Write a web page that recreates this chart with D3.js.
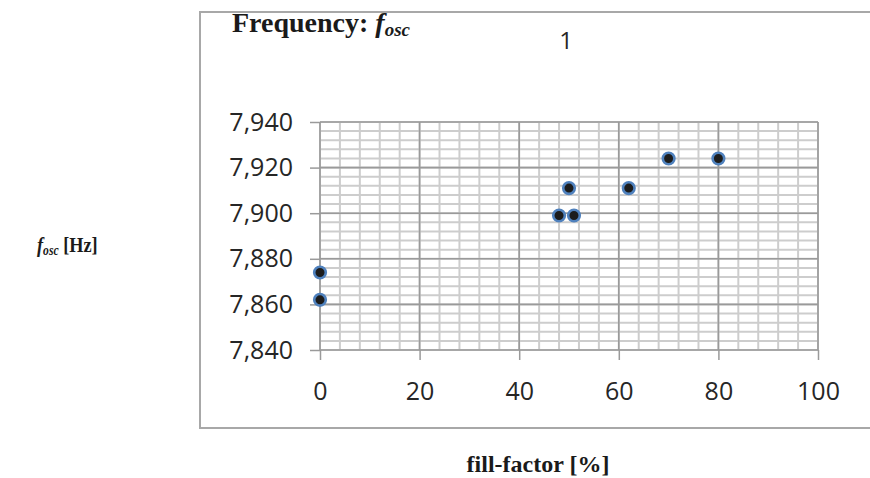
<!DOCTYPE html>
<html>
<head>
<meta charset="utf-8">
<script src="https://cdn.jsdelivr.net/npm/d3@7"></script>
<style>
  body { margin: 0; background: #fff; }
  .eje text { font-family: 'Open Sans', sans-serif; font-size: 25px; fill: #262626; }
  .eje path { display: none; }
  .eje line { stroke: #9a9a9a; stroke-width: 1.5px; }
  .serif { font-family: 'Liberation Serif', 'Times New Roman', serif; font-weight: bold; fill: #1a1a1a; }
</style>
</head>
<body>
<div id="graf"></div>
<script>
// datos
fillFactor = [0, 0, 48, 50, 51, 62, 70, 80]
freq = [7874, 7862, 7899, 7911, 7899, 7911, 7924, 7924]
xTicks = [0, 20, 40, 60, 80, 100]
yTicks = [7840, 7860, 7880, 7900, 7920, 7940]

ancho_total = 870
alto_total = 478

svg = d3.select('#graf').append('svg')
  .attr('width', ancho_total)
  .attr('height', alto_total)
  .style('display', 'block')

// marco del area del grafico
svg.append('rect')
  .attr('x', 200)
  .attr('y', 12)
  .attr('width', 700)
  .attr('height', 416)
  .attr('fill', '#fff')
  .attr('stroke', '#a8a8a8')
  .attr('stroke-width', 2)

x = d3.scaleLinear().domain([0, 100]).range([320, 818])
y = d3.scaleLinear().domain([7840, 7940]).range([350, 122])

g = svg.append('g')

// rejilla menor
g.selectAll('.vmin')
  .data(d3.range(0, 101, 4))
  .enter().append('line')
  .attr('x1', d => x(d)).attr('x2', d => x(d))
  .attr('y1', y(7940)).attr('y2', y(7840))
  .attr('stroke', '#cdcdcd').attr('stroke-width', 2)
g.selectAll('.hmin')
  .data(d3.range(7840, 7941, 4))
  .enter().append('line')
  .attr('x1', x(0)).attr('x2', x(100))
  .attr('y1', d => y(d)).attr('y2', d => y(d))
  .attr('stroke', '#cdcdcd').attr('stroke-width', 2)

// rejilla mayor
g.selectAll('.vmaj')
  .data(xTicks)
  .enter().append('line')
  .attr('x1', d => x(d)).attr('x2', d => x(d))
  .attr('y1', y(7940)).attr('y2', y(7840))
  .attr('stroke', '#9a9a9a').attr('stroke-width', 1.6)
g.selectAll('.hmaj')
  .data(yTicks)
  .enter().append('line')
  .attr('x1', x(0)).attr('x2', x(100))
  .attr('y1', d => y(d)).attr('y2', d => y(d))
  .attr('stroke', '#9a9a9a').attr('stroke-width', 1.6)

// ejes
yAxisCall = d3.axisLeft(y)
  .tickValues(yTicks)
  .tickSize(10)
  .tickPadding(17)
  .tickFormat(d3.format(','))
svg.append('g')
  .attr('class', 'eje')
  .attr('transform', `translate(${x(0)}, 0)`)
  .call(yAxisCall)

xAxisCall = d3.axisBottom(x)
  .tickValues(xTicks)
  .tickSize(10)
  .tickPadding(22)
svg.append('g')
  .attr('class', 'eje')
  .attr('transform', `translate(0, ${y(7840)})`)
  .call(xAxisCall)

// puntos
svg.selectAll('circle')
  .data(fillFactor)
  .enter().append('circle')
  .attr('cx', d => x(d))
  .attr('cy', (d, i) => y(freq[i]))
  .attr('r', 5.8)
  .attr('fill', '#1c1c1c')
  .attr('stroke', '#4f81bd')
  .attr('stroke-width', 2.6)

// titulo
titulo = svg.append('text')
  .attr('class', 'serif')
  .attr('x', 232)
  .attr('y', 32)
  .attr('font-size', '28px')
titulo.append('tspan').text('Frequency: ')
titulo.append('tspan').attr('font-style', 'italic').text('f')
titulo.append('tspan').attr('font-style', 'italic').attr('font-size', '19px').attr('dy', 4).text('osc')

svg.append('text')
  .attr('x', 566)
  .attr('y', 49)
  .attr('text-anchor', 'middle')
  .attr('font-family', 'Open Sans, sans-serif')
  .attr('font-size', '24px')
  .attr('fill', '#262626')
  .text('1')

// titulo eje y
ty = svg.append('text')
  .attr('class', 'serif')
  .attr('transform', 'translate(37, 252) scale(0.83, 1)')
  .attr('font-size', '22px')
ty.append('tspan').attr('font-style', 'italic').text('f')
ty.append('tspan').attr('font-style', 'italic').attr('font-size', '14px').attr('dy', 3).text('osc')
ty.append('tspan').attr('dy', -3).text(' [Hz]')

// titulo eje x
svg.append('text')
  .attr('class', 'serif')
  .attr('x', 538)
  .attr('y', 472)
  .attr('text-anchor', 'middle')
  .attr('font-size', '24px')
  .text('fill-factor [%]')
</script>
</body>
</html>
